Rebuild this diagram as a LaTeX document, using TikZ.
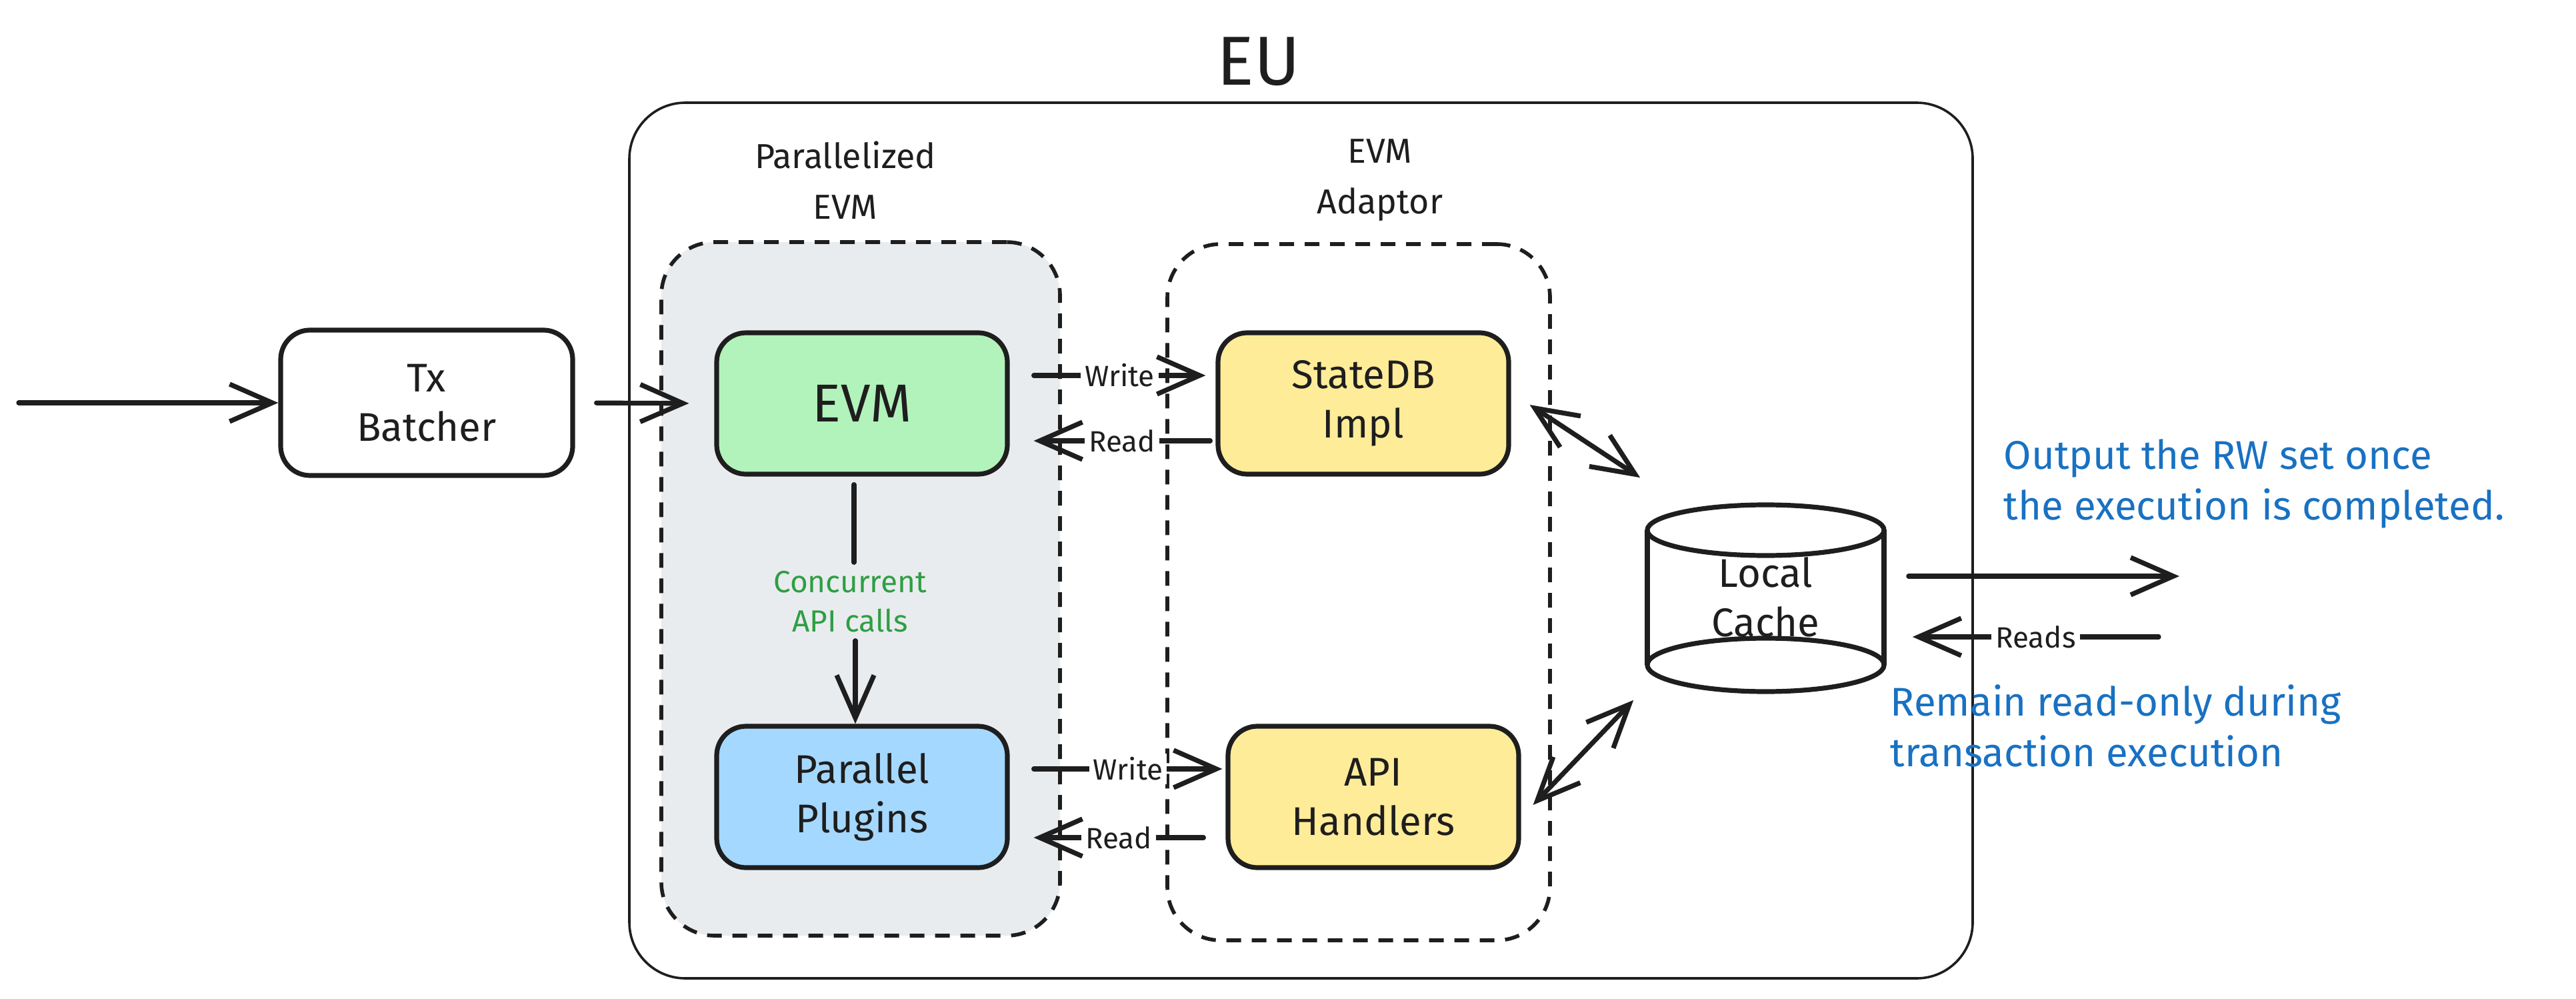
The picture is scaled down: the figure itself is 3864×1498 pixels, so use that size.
\documentclass[tikz,border=0pt]{standalone}
\usepackage{fontspec}
\setmainfont{Fira Sans}
\usetikzlibrary{arrows.meta}
\definecolor{ink}{HTML}{1E1E1E}
\definecolor{evmgreen}{HTML}{B2F2BB}
\definecolor{dbyellow}{HTML}{FFEC99}
\definecolor{plugblue}{HTML}{A5D8FF}
\definecolor{groupgray}{HTML}{E9ECEF}
\definecolor{notegreen}{HTML}{2F9E44}
\definecolor{noteblue}{HTML}{1971C2}
\newcommand{\fsz}[2]{\fontsize{#1}{#2}\selectfont}
\begin{document}
\begin{tikzpicture}[x=0.25pt,y=-0.25pt,
  box/.style={draw=ink,line width=1.8pt,rounded corners=11pt,align=center,text=ink,inner sep=0pt,minimum width=109pt,minimum height=53pt,font=\fsz{15}{18.5}},
  group/.style={draw=ink,line width=1.4pt,dash pattern=on 5.5pt off 4pt,rounded corners=20pt,inner sep=0pt},
  head/.style={align=center,text=ink,font=\fsz{13}{19}},
  lbl/.style={text=ink,font=\fsz{11}{13},inner sep=1.5pt,fill=white},
  link/.style={draw=ink,line width=1.8pt,line cap=round},
  arr/.style={link,-{Straight Barb[length=16pt,width=14pt,line width=1.8pt]}},
  arrs/.style={link,{Straight Barb[length=16pt,width=14pt,line width=1.8pt]}-{Straight Barb[length=16pt,width=14pt,line width=1.8pt]}},
  note/.style={align=left,text=noteblue,font=\fsz{15}{19},anchor=west,inner sep=0pt}]
\useasboundingbox (0,0) rectangle (3864,1498);

% containers
\node[draw=ink,line width=0.9pt,rounded corners=21pt,minimum width=503.75pt,minimum height=328.25pt,inner sep=0pt] (eubox) at (1951.5,810.5) {};
\node[text=ink,font=\fsz{26}{30}] (eu) at (1888,92) {EU};
\node[group,fill=groupgray,minimum width=149.5pt,minimum height=260pt] (pgroup) at (1291,883) {};
\node[group,minimum width=143.5pt,minimum height=261pt] (agroup) at (2038,888) {};
\node[head] (phead) at (1268,270) {Parallelized\\EVM};
\node[head] (ahead) at (2070,270) {EVM\\Adaptor};

% boxes
\node[box,minimum width=109.5pt,minimum height=54.5pt] (tx) at (640,604) {Tx\\Batcher};
\node[box,fill=evmgreen,font=\fsz{20}{24}] (evm) at (1293,605) {EVM};
\node[box,fill=dbyellow] (statedb) at (2045,605) {StateDB\\Impl};
\node[box,fill=plugblue] (plugins) at (1293,1195) {Parallel\\Plugins};
\node[box,fill=dbyellow] (api) at (2060,1195) {API\\Handlers};

% cache cylinder
\node[minimum width=88.75pt,minimum height=70pt,inner sep=0pt,align=center,text=ink,font=\fsz{15}{18.5}] (cache) at (2648.5,895) {Local\\Cache};
\draw[ink,line width=1.8pt] (2471,795) -- (2471,997) (2826,795) -- (2826,997);
\draw[ink,line width=1.8pt] (2648.5,795) ellipse [x radius=44.4pt,y radius=9.5pt];
\draw[ink,line width=1.8pt] (2648.5,997) ellipse [x radius=44.4pt,y radius=10pt];

% connectors
\coordinate (src) at (28,604);
\draw[arr] (src) -- (tx.west);
\draw[arr,shorten <=8pt,shorten >=9.5pt] (tx.east) -- (evm.west);

\draw[arr] ([xshift=9pt,yshift=10.5pt]evm.east) -- node[lbl]{Write} ([xshift=-3.75pt,yshift=10.5pt]statedb.west);
\draw[arr] ([xshift=-2pt,yshift=-14pt]statedb.west) -- node[lbl]{Read} ([xshift=9pt,yshift=-14pt]evm.east);
\draw[arr] ([xshift=9pt,yshift=10.5pt]plugins.east) -- node[lbl]{Write} ([xshift=-1.25pt,yshift=10.5pt]api.west);
\draw[arr] ([xshift=-8.25pt,yshift=-15.25pt]api.west) -- node[lbl]{Read} ([xshift=9pt,yshift=-15.25pt]plugins.east);

\node[text=notegreen,align=center,font=\fsz{11.5}{14.75},inner sep=3pt] (conc) at (1275,902) {Concurrent\\API calls};
\draw[link] ([xshift=-3pt,yshift=-3pt]evm.south) -- ([xshift=-3pt]evm.south |- conc.north);
\draw[arr] ([xshift=-2.5pt]evm.south |- conc.south) -- ([xshift=-2.5pt]plugins.north);

\draw[arrs] ([xshift=7pt,yshift=-0.5pt]statedb.east) -- ([xshift=-2.5pt,yshift=9.5pt]cache.north west);
\draw[arrs] ([xshift=4.5pt,yshift=-3pt]api.east) -- ([xshift=-5pt,yshift=-3.5pt]cache.south west);

\coordinate (sink) at (3269,864);
\draw[arr] ([xshift=9pt,yshift=7.75pt]cache.east) -- (sink);
\coordinate (feed) at (3238,955);
\draw[arr] (feed) -- node[lbl]{Reads} ([xshift=10.5pt,yshift=-15pt]cache.east);

% notes
\node[note] (outnote) at (3005,725) {Output the RW set once\\the execution is completed.};
\node[note] (ronote) at (2835,1088) {Remain read-only during\\transaction execution};
\end{tikzpicture}
\end{document}
